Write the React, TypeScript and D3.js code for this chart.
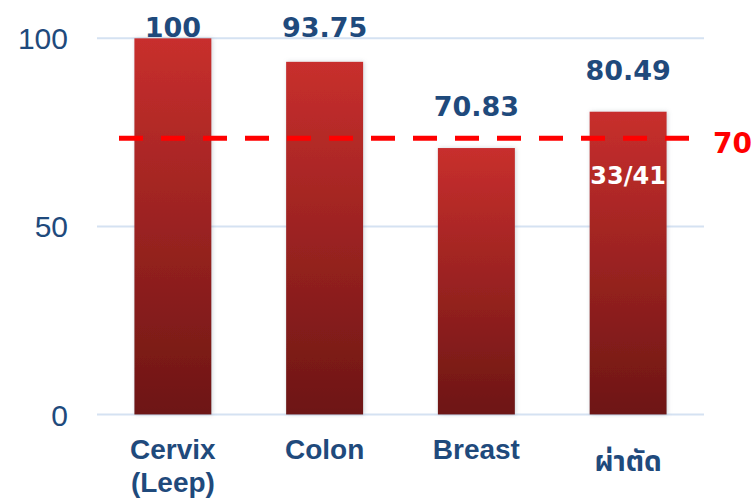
import React from "react";
import * as d3 from "d3";

const categories = ["Cervix\n(Leep)", "Colon", "Breast", "ผ่าตัด"];
const values = [100, 93.75, 70.83, 80.49];
const valueLabels = ["100", "93.75", "70.83", "80.49"];
const innerLabels = ["", "", "", "33/41"];
const yTicks = [0, 50, 100];
const thresholdValue = 73.4;
const thresholdLabel = "70";

const W = 753;
const H = 499;

export default function App() {
  const x = d3
    .scaleBand<string>()
    .domain(categories)
    .range([97, 704])
    .paddingInner(0.4926)
    .paddingOuter(0.2463);
  const y = d3.scaleLinear().domain([0, 100]).range([414.5, 38.3]);
  const blue = "#1F4A7C";
  const font = "'Liberation Sans', Arial, sans-serif";
  const wideFont = "'DejaVu Sans', Verdana, sans-serif";
  const thaiFont = "'Noto Sans Thai', 'Noto Sans', 'Liberation Sans', sans-serif";

  return (
    <svg
      width={W}
      height={H}
      style={{ position: "absolute", left: 0, top: 0, background: "#fff" }}
    >
      <defs>
        <linearGradient id="barGrad" x1="0" y1="0" x2="0" y2="1">
          <stop offset="0%" stopColor="#C82F2D" />
          <stop offset="100%" stopColor="#6D1614" />
        </linearGradient>
        <filter id="shadow" x="-20%" y="-5%" width="140%" height="110%">
          <feDropShadow dx="1" dy="0" stdDeviation="2" floodColor="#7a8796" floodOpacity="0.35" />
        </filter>
      </defs>

      {yTicks.map((t) => (
        <g key={t}>
          <line x1={97} x2={704} y1={y(t)} y2={y(t)} stroke="#D5E2F2" strokeWidth={2} />
          <text
            x={68}
            y={y(t) + 11}
            textAnchor="end"
            fontFamily={font}
            fontSize={30}
            fill={blue}
          >
            {t}
          </text>
        </g>
      ))}

      {categories.map((c, i) => {
        const bx = x(c)!;
        const bw = x.bandwidth();
        const top = y(values[i]);
        return (
          <rect
            key={c}
            x={bx}
            y={top}
            width={bw}
            height={y(0) - top}
            fill="url(#barGrad)"
            filter="url(#shadow)"
          />
        );
      })}

      <line
        x1={119}
        x2={689}
        y1={y(thresholdValue)}
        y2={y(thresholdValue)}
        stroke="#FF0000"
        strokeWidth={5}
        strokeDasharray="24 18"
      />
      <text
        x={713}
        y={y(thresholdValue) + 15}
        fontFamily={wideFont}
        fontWeight="bold"
        fontSize={28}
        fill="#FF0000"
      >
        {thresholdLabel}
      </text>

      {categories.map((c, i) => {
        const cx = x(c)! + x.bandwidth() / 2;
        const top = y(values[i]);
        const base = Math.max(top - 32, 37);
        const lines = c.split("\n");
        const isThai = /[\u0E00-\u0E7F]/.test(c);
        return (
          <g key={"l" + c}>
            <text
              x={cx}
              y={base}
              textAnchor="middle"
              fontFamily={wideFont}
              fontWeight="bold"
              fontSize={27}
              fill={blue}
            >
              {valueLabels[i]}
            </text>
            {innerLabels[i] && (
              <text
                x={cx}
                y={top + 72}
                textAnchor="middle"
                fontFamily={wideFont}
                fontWeight="bold"
                fontSize={24}
                fill="#FFFFFF"
              >
                {innerLabels[i]}
              </text>
            )}
            <text
              x={cx}
              y={isThai ? 471 : 459}
              textAnchor="middle"
              fontFamily={isThai ? thaiFont : font}
              fontWeight="bold"
              fontSize={28}
              fill={blue}
            >
              {lines.map((l, j) => (
                <tspan key={j} x={cx} dy={j === 0 ? 0 : 33}>
                  {l}
                </tspan>
              ))}
            </text>
          </g>
        );
      })}
    </svg>
  );
}
